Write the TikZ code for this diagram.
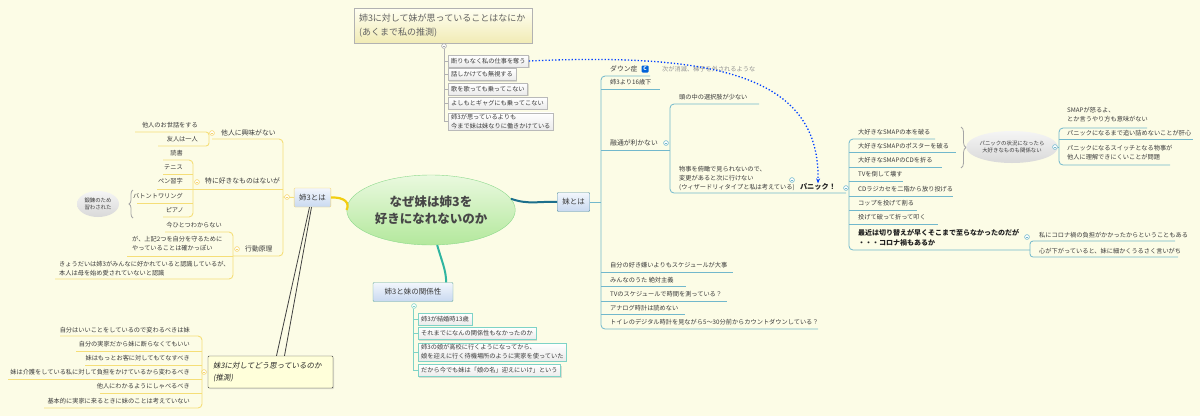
\documentclass[tikz,border=0pt]{standalone}
\usepackage{fontspec}
\setmainfont{Noto Sans CJK JP}
\newfontfamily\slfont[FakeSlant=0.18]{Noto Sans CJK JP}
\usetikzlibrary{shapes.geometric,shadows,arrows.meta,decorations.pathreplacing,calc}
\definecolor{bgc}{HTML}{FCFCE6}
\definecolor{txc}{HTML}{3A3A3A}
\definecolor{ylc}{HTML}{F5DE78}
\definecolor{ycon}{HTML}{F2CE10}
\definecolor{tlc}{HTML}{72B8CC}
\definecolor{cdark}{HTML}{1C6F8C}
\definecolor{gcon}{HTML}{2FB5A0}
\definecolor{gbord}{HTML}{7ED3C6}
\definecolor{blT}{HTML}{F2F6FC}
\definecolor{blB}{HTML}{C9D9F0}
\definecolor{cgT}{HTML}{EAF9DF}
\definecolor{cgB}{HTML}{B3E89C}
\definecolor{tyT}{HTML}{FFFFF2}
\definecolor{tyB}{HTML}{F1EBB5}
\definecolor{boxy}{HTML}{FFFFDA}
\newcommand\mmsmall{\fontsize{6.2}{8.8}\selectfont}
\newcommand\mmmid{\fontsize{6.8}{9}\selectfont}
\begin{document}
\begin{tikzpicture}[x=1pt,y=-1pt,
  tx/.style={font=\mmsmall, text=txc, inner sep=0pt},
  tm/.style={font=\mmmid, text=txc, inner sep=0pt},
  yline/.style={draw=ylc, line width=0.9pt},
  tline/.style={draw=tlc, line width=0.8pt},
  gline/.style={draw=gbord, line width=0.9pt},
  gbox/.style={draw=gray!55, top color=white, bottom color=gray!16, font=\mmsmall, text=txc, inner xsep=3pt, inner ysep=1.6pt, minimum height=12pt, anchor=west, drop shadow={shadow xshift=1pt,shadow yshift=-1pt,opacity=0.25}},
  tbox/.style={gbox, draw=gbord},
  mainbox/.style={top color=blT, bottom color=blB, font=\fontsize{7.5}{9}\selectfont, text=txc, minimum height=19pt, inner xsep=5pt, rounded corners=1pt},
  cbtn/.pic={\draw[fill=white, line width=0.6pt] (0,0) circle (2.4); \draw[line width=0.5pt] (-1.2,0) -- (1.2,0);}
]
\fill[bgc] (0,0) rectangle (1200,416);
\useasboundingbox (0,0) rectangle (1200,416);

% ---------- centre ----------
\node[ellipse, draw=gray!50!green!60, top color=cgT, bottom color=cgB, minimum width=152pt, minimum height=70pt, align=center, font=\fontsize{12.5}{17}\selectfont\bfseries, text=black!72] (center) at (431,210) {なぜ妹は姉3を\\好きになれないのか};

% ---------- title (top) ----------
\node[draw=gray!60, top color=tyT, bottom color=tyB, inner xsep=5pt, text width=168pt, minimum height=35pt, align=left, font=\fontsize{9}{14.5}\selectfont, text=black!62, drop shadow={shadow xshift=1pt,shadow yshift=-1pt,opacity=0.25}] (title) at (443,25.5) {姉3に対して妹が思っていることはなにか\\(あくまで私の推測)};
\pic[color=gray!70] at (444,46) {cbtn};
\node[gbox] (q1) at (448,61) {断りもなく私の仕事を奪う};
\node[gbox] (q2) at (448,74.5) {話しかけても無視する};
\node[gbox] (q3) at (448,89) {歌を歌っても乗ってこない};
\node[gbox] (q4) at (448,103) {よしもとギャグにも乗ってこない};
\node[gbox, align=left, font=\fontsize{6.2}{8.5}\selectfont] (q5) at (448,121.5) {姉3が思っているよりも\\今まで妹は妹なりに働きかけている};
\draw[gray!60, line width=0.7pt] (444,48.5) |- (q5.west);
\foreach \q in {q1,q2,q3,q4} \draw[gray!60, line width=0.7pt] (q1.west -| 444,0) |- (\q.west);

% ---------- right branch ----------
\node[mainbox, draw=tlc!80!black] (imo) at (573.5,202) {妹とは};
\draw[line width=2pt, draw=cdark] (center.8) .. controls (528,205) and (540,201) .. (imo.west);
\draw[tline] (imo.east) -- (601,202);
\draw[tline, rounded corners=4pt] (650,76) -- (601,76) -- (601,329) -- (818,329);
\foreach \yy/\xx in {89/660,150/670,272/733,286/686,301/727,314/685} \draw[tline] (601,\yy) -- (\xx,\yy);
\node[tm, anchor=west] (i1) at (610,69) {ダウン症};
\node[fill=blue!55!cyan!85!black, text=white, font=\fontsize{5}{5}\selectfont\bfseries, inner sep=0pt, minimum size=7pt, rounded corners=1pt] (icon) at (645,69) {C};
\node[tx, text=gray!85, anchor=west] (lbl) at (662,69) {次が消滅、梯子を外されるような};
\node[tx, anchor=west] (i2) at (610,82) {姉3より16歳下};
\node[tm, anchor=west] (i3) at (610,143) {融通が利かない};
\node[tx, anchor=west] (i4) at (610,265) {自分の好き嫌いよりもスケジュールが大事};
\node[tx, anchor=west] (i5) at (610,280) {みんなのうた 絶対主義};
\node[tx, anchor=west] (i6) at (610,294) {TVのスケジュールで時間を測っている？};
\node[tx, anchor=west] (i7) at (610,308) {アナログ時計は読めない};
\node[tx, anchor=west] (i8) at (610,322) {トイレのデジタル時計を見ながら5～30分前からカウントダウンしている？};

\pic[color=tlc] at (666,143) {cbtn};
\draw[tline, rounded corners=4pt] (759,104) -- (670,104) -- (670,193) -- (846,193);
\node[tx, anchor=west] (y1) at (679,97) {頭の中の選択肢が少ない};
\node[tx, anchor=west, align=left, font=\fontsize{6.2}{9}\selectfont] (y2) at (679,178) {物事を俯瞰で見られないので、\\変更があると次に行けない\\(ウィザードリィタイプと私は考えている)};
\pic[color=tlc] at (792,180) {cbtn};
\node[tm, font=\fontsize{7.2}{9}\selectfont\bfseries, text=black!85] (panic) at (818,187) {パニック！};
\pic[color=tlc] at (846,188) {cbtn};

\draw[tline, rounded corners=4pt] (935,139) -- (849,139) -- (849,250) -- (1030,250);
\foreach \yy/\xx in {152/956,167/942,181/903,196/953,210/917,224/938} \draw[tline] (849,\yy) -- (\xx,\yy);
\node[tx, anchor=west] (p1) at (858,132) {大好きなSMAPの本を破る};
\node[tx, anchor=west] (p2) at (858,146) {大好きなSMAPのポスターを破る};
\node[tx, anchor=west] (p3) at (858,160) {大好きなSMAPのCDを折る};
\node[tx, anchor=west] (p4) at (858,174) {TVを倒して壊す};
\node[tx, anchor=west] (p5) at (858,189) {CDラジカセを二階から放り投げる};
\node[tx, anchor=west] (p6) at (858,203) {コップを投げて割る};
\node[tx, anchor=west] (p7) at (858,217) {投げて破って折って叩く};
\node[tx, anchor=west, align=left, font=\fontsize{7}{10.5}\selectfont\bfseries, text=black!88] (p8) at (858,238) {最近は切り替えが早くそこまで至らなかったのだが\\・・・コロナ禍もあるか};
\pic[color=tlc] at (1027,237) {cbtn};
\draw[tline, rounded corners=3pt] (1175,241) -- (1030,241) -- (1030,257) -- (1178,257);
\node[tx, anchor=west] (k1) at (1039,235.5) {私にコロナ禍の負担がかかったからということもある};
\node[tx, anchor=west] (k2) at (1039,251.5) {心が下がっていると、妹に細かくうるさく言いがち};

\draw[gray!70, line width=0.8pt, decorate, decoration={brace, amplitude=5pt}] (961,127) -- (961,168);
\node[ellipse, top color=gray!8, bottom color=gray!30, minimum width=80pt, minimum height=32pt, align=center, inner sep=0pt, font=\fontsize{5.4}{7.5}\selectfont, text=txc] (pe) at (1012,147) {パニックの状況になったら\\大好きなものも関係ない};
\draw[tline] (pe.east) -- (1059,147);
\pic[color=tlc] at (1055,147) {cbtn};
\draw[tline, rounded corners=4pt] (1147,128) -- (1059,128) -- (1059,165) -- (1170,165);
\draw[tline] (1059,139) -- (1193,139);
\node[tx, anchor=west, align=left, font=\fontsize{6.2}{8.8}\selectfont] (s1) at (1067,114.5) {SMAPが怒るよ、\\とか言うやり方も意味がない};
\node[tx, anchor=west] (s2) at (1067,133.5) {パニックになるまで追い詰めないことが肝心};
\node[tx, anchor=west, align=left, font=\fontsize{6.2}{8.8}\selectfont] (s3) at (1067,152.5) {パニックになるスイッチとなる物事が\\他人に理解できにくいことが問題};

\draw[dotted, line width=1.3pt, draw=blue!75!cyan, -{Stealth[length=5pt,width=4pt]}] (q1.east) .. controls (725,52) and (820,80) .. (panic.north);

% ---------- left branch ----------
\node[mainbox, draw=ylc!90!orange] (ane) at (312.5,197.5) {姉3とは};
\draw[line width=2.2pt, draw=ycon] (ane.east) .. controls (345,197) and (350,203) .. (center.west);
\draw[yline] (283,197) -- (ane.west);
\pic[color=ylc!90!orange] at (287,197) {cbtn};
\draw[yline, rounded corners=4pt] (212,139) -- (283,139) -- (283,256) -- (233,256);
\draw[yline] (283,189) -- (157,189);
\node[tm, anchor=west] (a1) at (221,133) {他人に興味がない};
\pic[color=ylc!90!orange] at (212,133) {cbtn};
\draw[yline, rounded corners=3pt] (135,132) -- (209,132) -- (209,146) -- (158,146);
\node[tx, anchor=east] (a11) at (198,125) {他人のお世話をする};
\node[tx, anchor=east] (a12) at (198,139) {友人は一人};

\node[tm, anchor=west] (a2) at (205,181) {特に好きなものはないが};
\pic[color=ylc!90!orange] at (197,182) {cbtn};
\draw[yline, rounded corners=4pt] (163,160) -- (193,160) -- (193,217) -- (163,217);
\draw[yline] (163,174) -- (193,174);
\draw[yline] (137,203) -- (193,203);
\node[tx, anchor=east] (a21) at (183,153) {読書};
\node[tx, anchor=east] (a22) at (183,167.5) {テニス};
\node[tx, anchor=east] (a23) at (183,181.5) {ペン習字};
\node[tx, anchor=east] (a24) at (183,196) {バトントワリング};
\node[tx, anchor=east] (a25) at (184,210) {ピアノ};
\draw[gray!70, line width=0.8pt, decorate, decoration={brace, amplitude=4pt}] (133,218) -- (133,190);
\node[ellipse, top color=gray!8, bottom color=gray!30, minimum width=42pt, minimum height=26pt, align=center, inner sep=0pt, font=\fontsize{5.4}{7.5}\selectfont, text=txc] (ae) at (98,204) {鍛錬のため\\習わされた};

\node[tm, anchor=west] (a3) at (245,249) {行動原理};
\pic[color=ylc!90!orange] at (237,249) {cbtn};
\draw[yline, rounded corners=4pt] (165,232) -- (233,232) -- (233,279) -- (55,279);
\draw[yline] (127,256) -- (233,256);
\node[tx, anchor=east] (a31) at (222,225.5) {今ひとつわからない};
\node[tx, anchor=west, align=left, font=\fontsize{6.2}{8.8}\selectfont] (a32) at (132,243.5) {が、上記2つを自分を守るために\\やっていることは確かっぽい};
\node[tx, anchor=west, align=left, font=\fontsize{6.2}{8.8}\selectfont] (a33) at (59,268.5) {きょうだいは姉3がみんなに好かれていると認識しているが、\\本人は母を始め愛されていないと認識};

% ---------- bottom-left ----------
\node[draw=gray!50!black, fill=boxy, font=\slfont\fontsize{7.5}{12}\selectfont, text=black!85, align=left, inner xsep=5pt, text width=115pt, minimum height=32pt, rounded corners=1pt, drop shadow={shadow xshift=1pt,shadow yshift=-1pt,opacity=0.25}] (imo3) at (270.5,372) {妹3に対してどう思っているのか\\(推測)};
\draw[black!75, line width=0.8pt] ($(ane.south)+(-3,0)$) -- ($(imo3.north)+(6,0)$);
\draw[black!75, line width=0.8pt] ($(ane.south)+(-1,0)$) -- ($(imo3.north)+(14,0)$);
\pic[color=ylc!90!orange] at (204,372) {cbtn};
\draw[yline, rounded corners=4pt] (60,336) -- (202,336) -- (202,408) -- (44,408);
\foreach \yy/\xx in {351/76,365/85,379/8,393/100} \draw[yline] (\xx,\yy) -- (202,\yy);
\node[tx, anchor=east] (b1) at (190,330) {自分はいいことをしているので変わるべきは妹};
\node[tx, anchor=east] (b2) at (190,344) {自分の実家だから妹に断らなくてもいい};
\node[tx, anchor=east] (b3) at (190,358) {妹はもっとお客に対してもてなすべき};
\node[tx, anchor=east] (b4) at (190,372) {妹は介護をしている私に対して負担をかけているから変わるべき};
\node[tx, anchor=east] (b5) at (190,386.5) {他人にわかるようにしゃべるべき};
\node[tx, anchor=east] (b6) at (190,401) {基本的に実家に来るときに妹のことは考えていない};

% ---------- bottom centre ----------
\node[mainbox, draw=gbord!80!black, minimum width=80pt] (rel) at (413,292) {姉3と妹の関係性};
\draw[line width=2pt, draw=gcon] (center.-80) .. controls (442,262) and (446,270) .. ($(rel.north east)+(-7,0)$);
\pic[color=gbord] at (414,306) {cbtn};
\node[tbox] (r1) at (418,319) {姉3が結婚時13歳};
\node[tbox] (r2) at (418,333.5) {それまでになんの関係性もなかったのか};
\node[tbox, align=left, font=\fontsize{6.2}{8.8}\selectfont] (r3) at (418,352) {姉3の娘が高校に行くようになってから、\\娘を迎えに行く待機場所のように実家を使っていた};
\node[tbox] (r4) at (418,370.5) {だから今でも妹は「娘の名」迎えにいけ」という};
\draw[gline] (413,308.5) |- (r4.west);
\foreach \r in {r1,r2,r3} \draw[gline] (413,0 |- \r.west) -- (\r.west);
\end{tikzpicture}
\end{document}
